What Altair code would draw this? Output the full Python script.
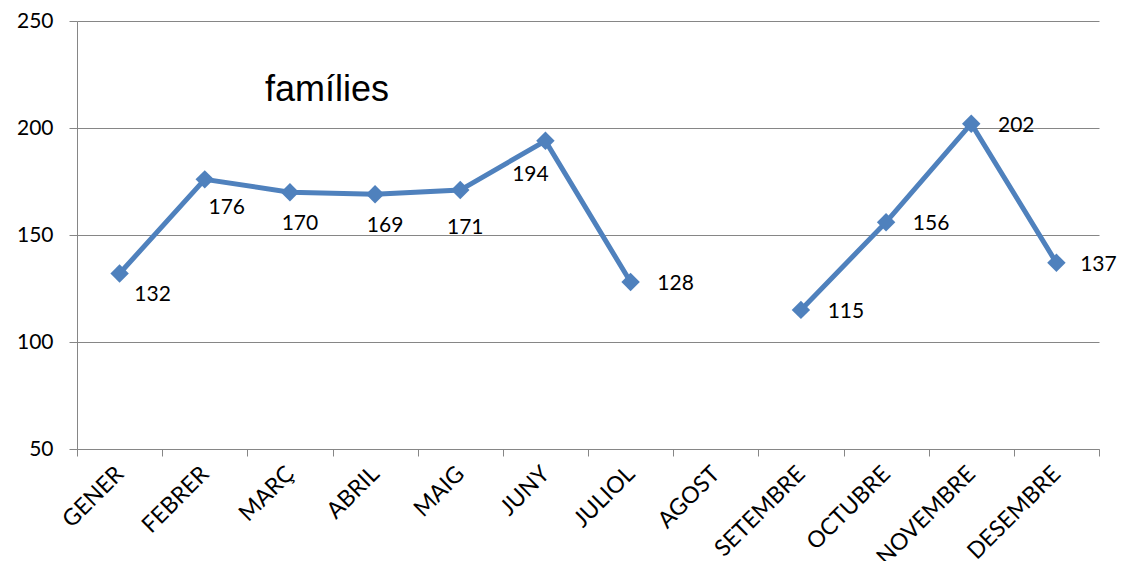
import altair as alt
import pandas as pd

months = ["GENER", "FEBRER", "MARÇ", "ABRIL", "MAIG", "JUNY", "JULIOL",
          "AGOST", "SETEMBRE", "OCTUBRE", "NOVEMBRE", "DESEMBRE"]
values = [132, 176, 170, 169, 171, 194, 128, None, 115, 156, 202, 137]
title_text = ["famílies"]
y_ticks = [50, 100, 150, 200, 250]

df = pd.DataFrame({"month": months, "value": values})

BLUE = "#4F81BD"
GRID = "#868686"
FONT = "Lato"

x_enc = alt.X("month:N", sort=months, title=None,
              scale=alt.Scale(paddingInner=0, paddingOuter=0),
              axis=alt.Axis(labelAngle=-45, labelAlign="right", labelBaseline="middle",
                            labelPadding=14, labelFont=FONT, labelFontSize=23,
                            labelColor="black", tickBand="extent", tickSize=7,
                            tickColor=GRID, domainColor=GRID, labelOverlap=False,
                            grid=False))
y_enc = alt.Y("value:Q", title=None,
              scale=alt.Scale(domain=[50, 250], nice=False, zero=False),
              axis=alt.Axis(values=y_ticks, tickSize=8, tickColor=GRID, domainColor=GRID,
                            gridColor=GRID, gridWidth=1, labelFont=FONT, labelFontSize=21,
                            labelColor="black", labelPadding=16))

base = alt.Chart(df)

line = base.mark_line(color=BLUE, strokeWidth=5).encode(x=x_enc, y=y_enc)
points = base.mark_point(shape="diamond", filled=True, size=340, color=BLUE,
                         opacity=1).encode(x=x_enc, y=y_enc)

label_groups = [
    (["GENER"], 33, 21),
    (["FEBRER"], 22, 29),
    (["MARÇ", "ABRIL"], 10, 32),
    (["MAIG"], 5, 38),
    (["JUNY"], -15, 34),
    (["JULIOL", "SETEMBRE", "OCTUBRE", "NOVEMBRE"], 45, 2),
    (["DESEMBRE"], 42, 2),
]
labels = []
for group, dx, dy in label_groups:
    labels.append(
        base.transform_filter(alt.FieldOneOfPredicate(field="month", oneOf=group))
        .mark_text(font=FONT, fontSize=21, color="black", dx=dx, dy=dy,
                   align="center", baseline="middle")
        .encode(x=x_enc, y=y_enc, text=alt.Text("value:Q"))
    )

title = alt.Chart(pd.DataFrame({"t": title_text})).mark_text(
    font="Liberation Sans", fontSize=36, color="black", align="left", baseline="middle"
).encode(text="t:N", x=alt.value(188), y=alt.value(69))

chart = alt.layer(line, points, *labels, title).properties(
    width=1022, height=428,
    padding={"left": 69, "top": 13, "right": 19, "bottom": 112},
    autosize=alt.AutoSizeParams(type="none"),
).configure_view(stroke=None).configure_axis(domainWidth=1, tickWidth=1)

chart.save("out.html", embed_options={"renderer": "svg", "actions": False})
